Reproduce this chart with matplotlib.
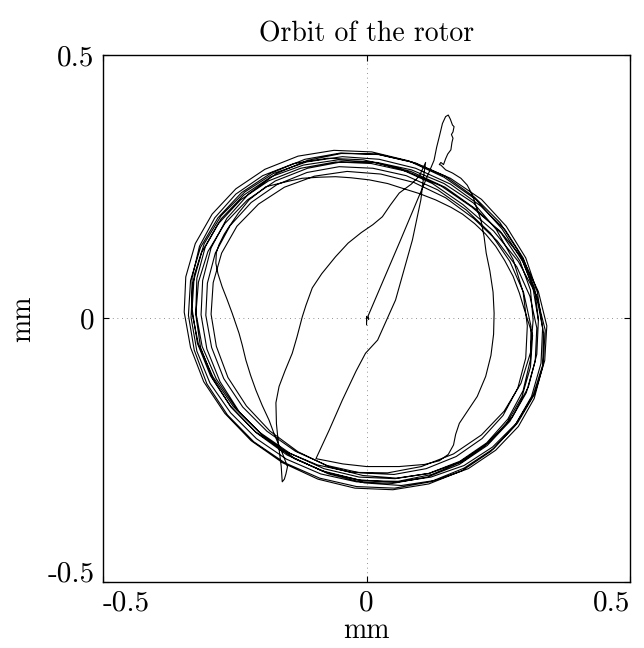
import numpy as np
import matplotlib
matplotlib.use("Agg")
import matplotlib.pyplot as plt

plt.rcParams["font.family"] = "cmr10"
plt.rcParams["axes.unicode_minus"] = False
plt.rcParams["mathtext.fontset"] = "cm"

# --- rotor centre displacement, mm -------------------------------------
# run-up: start at the bearing centre, overshoot, first irregular lap
startup_x = [0.000, 0.000, 0.004, 0.003, 0.065, 0.128, 0.133, 0.138, 0.144, 0.150,
             0.155, 0.159, 0.163, 0.166, 0.164, 0.161, 0.164, 0.162, 0.160, 0.154,
             0.150, 0.146, 0.141, 0.138, 0.141, 0.150, 0.163, 0.179, 0.191, 0.201,
             0.208, 0.217, 0.223, 0.227, 0.234, 0.240, 0.242, 0.241, 0.236, 0.226,
             0.210, 0.190, 0.176, 0.169, 0.165, 0.155, 0.138, 0.110, 0.062, 0.000,
             -0.045, -0.075, -0.096, -0.071, -0.046, -0.020, -0.002, 0.021, 0.055, 0.062,
             0.087, 0.103, 0.109, 0.112, 0.100, 0.085, 0.062, 0.045, 0.030, 0.012,
             -0.010, -0.035, -0.059, -0.085, -0.103, -0.115, -0.122, -0.132, -0.141, -0.155,
             -0.166, -0.172, -0.171, -0.167, -0.162, -0.160, -0.156, -0.153, -0.150, -0.160,
             -0.175, -0.185, -0.198, -0.210, -0.220, -0.229, -0.236, -0.242, -0.255, -0.265,
             -0.274, -0.282, -0.286, -0.285, -0.280, -0.270, -0.261, -0.243, -0.223, -0.191,
             -0.150, -0.122, -0.090, -0.059, -0.030, 0.005, 0.040, 0.068, 0.100, 0.131,
             0.160, 0.182, 0.205, 0.226, 0.245, 0.262, 0.278, 0.290, 0.300]
startup_y = [-0.012, 0.004, -0.002, 0.005, 0.150, 0.300, 0.325, 0.345, 0.370, 0.383,
             0.386, 0.378, 0.367, 0.364, 0.354, 0.349, 0.342, 0.334, 0.320, 0.312,
             0.303, 0.292, 0.296, 0.292, 0.291, 0.282, 0.276, 0.266, 0.253, 0.234,
             0.212, 0.187, 0.155, 0.124, 0.090, 0.050, 0.010, -0.030, -0.070, -0.110,
             -0.148, -0.178, -0.199, -0.220, -0.240, -0.258, -0.270, -0.277, -0.281, -0.281,
             -0.276, -0.270, -0.266, -0.212, -0.155, -0.100, -0.066, -0.041, 0.035, 0.060,
             0.149, 0.225, 0.275, 0.296, 0.270, 0.255, 0.238, 0.215, 0.193, 0.178,
             0.163, 0.143, 0.117, 0.085, 0.058, 0.025, 0.003, -0.035, -0.066, -0.100,
             -0.129, -0.160, -0.200, -0.240, -0.280, -0.310, -0.305, -0.295, -0.281, -0.255,
             -0.220, -0.193, -0.165, -0.136, -0.108, -0.079, -0.050, -0.028, 0.010, 0.037,
             0.060, 0.085, 0.105, 0.125, 0.140, 0.160, 0.174, 0.200, 0.225, 0.250,
             0.260, 0.266, 0.268, 0.269, 0.267, 0.263, 0.256, 0.247, 0.237, 0.225,
             0.211, 0.198, 0.180, 0.160, 0.137, 0.110, 0.080, 0.048, 0.015]

# steady whirl, one list per revolution (clockwise, starting on the right)
lap1_x = [0.315, 0.311, 0.295, 0.266, 0.225, 0.176, 0.119, 0.057, -0.007, -0.070,
          -0.130, -0.183, -0.228, -0.263, -0.285, -0.295, -0.291, -0.275, -0.246, -0.205,
          -0.156, -0.099, -0.037, 0.027, 0.090, 0.150, 0.203, 0.248, 0.285, 0.310]
lap1_y = [-0.032, -0.092, -0.148, -0.199, -0.241, -0.273, -0.294, -0.303, -0.298, -0.282,
          -0.253, -0.214, -0.166, -0.112, -0.053, 0.008, 0.068, 0.124, 0.175, 0.217,
          0.249, 0.270, 0.279, 0.274, 0.258, 0.229, 0.190, 0.147, 0.098, 0.042]
lap2_x = [0.323, 0.320, 0.303, 0.272, 0.229, 0.176, 0.115, 0.049, -0.019, -0.087,
          -0.152, -0.209, -0.258, -0.297, -0.322, -0.333, -0.330, -0.313, -0.282, -0.239,
          -0.186, -0.125, -0.059, 0.009, 0.077, 0.142, 0.199, 0.253, 0.297, 0.326]
lap2_y = [-0.018, -0.081, -0.141, -0.195, -0.241, -0.277, -0.301, -0.313, -0.310, -0.295,
          -0.267, -0.228, -0.179, -0.123, -0.062, 0.002, 0.065, 0.125, 0.179, 0.225,
          0.261, 0.285, 0.297, 0.294, 0.279, 0.251, 0.212, 0.166, 0.112, 0.051]
lap3_x = [0.342, 0.338, 0.319, 0.286, 0.241, 0.185, 0.121, 0.053, -0.019, -0.089,
          -0.155, -0.214, -0.264, -0.303, -0.327, -0.338, -0.334, -0.315, -0.282, -0.237,
          -0.181, -0.117, -0.049, 0.023, 0.093, 0.159, 0.218, 0.265, 0.302, 0.324]
lap3_y = [-0.014, -0.080, -0.143, -0.199, -0.247, -0.284, -0.310, -0.322, -0.319, -0.303,
          -0.274, -0.234, -0.183, -0.124, -0.060, 0.006, 0.072, 0.135, 0.191, 0.239,
          0.276, 0.302, 0.314, 0.311, 0.295, 0.266, 0.226, 0.175, 0.115, 0.050]
lap4_x = [0.334, 0.331, 0.313, 0.281, 0.236, 0.181, 0.118, 0.050, -0.022, -0.092,
          -0.159, -0.219, -0.269, -0.309, -0.334, -0.346, -0.343, -0.325, -0.293, -0.248,
          -0.193, -0.130, -0.062, 0.010, 0.080, 0.147, 0.207, 0.257, 0.297, 0.323]
lap4_y = [-0.018, -0.085, -0.148, -0.204, -0.252, -0.289, -0.314, -0.325, -0.322, -0.305,
          -0.274, -0.232, -0.180, -0.120, -0.055, 0.012, 0.079, 0.142, 0.198, 0.246,
          0.283, 0.308, 0.319, 0.316, 0.299, 0.268, 0.226, 0.170, 0.107, 0.040]
lap5_x = [0.336, 0.334, 0.318, 0.288, 0.245, 0.193, 0.132, 0.066, -0.004, -0.072,
          -0.137, -0.196, -0.246, -0.285, -0.312, -0.324, -0.322, -0.306, -0.276, -0.233,
          -0.181, -0.120, -0.054, 0.016, 0.084, 0.149, 0.208, 0.256, 0.291, 0.311]
lap5_y = [-0.028, -0.092, -0.152, -0.205, -0.250, -0.285, -0.307, -0.317, -0.312, -0.295,
          -0.265, -0.223, -0.173, -0.115, -0.053, 0.012, 0.076, 0.136, 0.189, 0.234,
          0.269, 0.291, 0.301, 0.296, 0.279, 0.249, 0.207, 0.161, 0.109, 0.054]
lap6_x = [0.316, 0.311, 0.293, 0.261, 0.218, 0.165, 0.104, 0.040, -0.028, -0.093,
          -0.155, -0.211, -0.257, -0.292, -0.315, -0.324, -0.319, -0.301, -0.269, -0.226,
          -0.173, -0.112, -0.048, 0.020, 0.085, 0.147, 0.203, 0.246, 0.278, 0.297]
lap6_y = [-0.003, -0.065, -0.123, -0.176, -0.221, -0.257, -0.281, -0.293, -0.292, -0.278,
          -0.252, -0.215, -0.168, -0.114, -0.055, 0.007, 0.069, 0.127, 0.180, 0.225,
          0.261, 0.285, 0.297, 0.296, 0.282, 0.256, 0.219, 0.169, 0.112, 0.050]
lap7_x = [0.305, 0.302, 0.287, 0.259, 0.219, 0.170, 0.113, 0.052, -0.012, -0.075,
          -0.135, -0.189, -0.235, -0.271, -0.294, -0.305, -0.302, -0.287, -0.259, -0.219,
          -0.170, -0.113, -0.052, 0.012, 0.075, 0.135, 0.189, 0.235, 0.272, 0.298]
lap7_y = [-0.014, -0.075, -0.132, -0.184, -0.228, -0.262, -0.285, -0.296, -0.293, -0.279,
          -0.252, -0.214, -0.168, -0.114, -0.055, 0.006, 0.067, 0.124, 0.176, 0.220,
          0.254, 0.277, 0.288, 0.285, 0.271, 0.244, 0.206, 0.162, 0.108, 0.049]
lap8_x = [0.312, 0.311, 0.297, 0.268, 0.228, 0.177, 0.118, 0.054, -0.014, -0.081,
          -0.145, -0.203, -0.253, -0.292, -0.319, -0.332, -0.331, -0.317, -0.288, -0.248,
          -0.197, -0.138, -0.074, -0.006, 0.061, 0.125, 0.183, 0.241, 0.288, 0.322]
lap8_y = [-0.015, -0.078, -0.137, -0.191, -0.236, -0.271, -0.294, -0.304, -0.301, -0.285,
          -0.256, -0.216, -0.167, -0.110, -0.049, 0.015, 0.078, 0.137, 0.191, 0.236,
          0.271, 0.294, 0.304, 0.301, 0.285, 0.256, 0.216, 0.166, 0.108, 0.045]
lap9_x = [0.339, 0.335, 0.316, 0.284, 0.239, 0.185, 0.122, 0.054, -0.016, -0.085,
          -0.151, -0.209, -0.258, -0.296, -0.321, -0.331, -0.327, -0.308, -0.276, -0.231,
          -0.177, -0.114, -0.046, 0.024, 0.093, 0.159, 0.217, 0.263, 0.297, 0.319]
lap9_y = [-0.022, -0.086, -0.146, -0.199, -0.244, -0.279, -0.301, -0.311, -0.306, -0.289,
          -0.259, -0.217, -0.167, -0.109, -0.047, 0.018, 0.082, 0.142, 0.195, 0.240,
          0.275, 0.297, 0.307, 0.302, 0.285, 0.255, 0.213, 0.168, 0.115, 0.057]
lap10_x = [0.326, 0.323, 0.307, 0.277, 0.235, 0.183, 0.124, 0.060, -0.008, -0.074,
           -0.137, -0.193, -0.241, -0.278, -0.303, -0.314, -0.311, -0.295, -0.265, -0.223,
           -0.171, -0.112, -0.048, 0.020, 0.086, 0.149, 0.205, 0.253, 0.290, 0.315, 0.326]
lap10_y = [-0.003, -0.068, -0.130, -0.186, -0.233, -0.271, -0.296, -0.309, -0.308, -0.293,
           -0.266, -0.226, -0.178, -0.120, -0.058, 0.007, 0.072, 0.134, 0.190, 0.237,
           0.275, 0.300, 0.313, 0.312, 0.297, 0.270, 0.230, 0.182, 0.124, 0.062, -0.003]

tick_values = [-0.5, 0.0, 0.5]
tick_labels = ["-0.5", "0", "0.5"]

laps_x = [lap1_x, lap2_x, lap3_x, lap4_x, lap5_x, lap6_x, lap7_x, lap8_x, lap9_x, lap10_x]
laps_y = [lap1_y, lap2_y, lap3_y, lap4_y, lap5_y, lap6_y, lap7_y, lap8_y, lap9_y, lap10_y]
orbit_x = np.concatenate([startup_x] + laps_x)
orbit_y = np.concatenate([startup_y] + laps_y)

fig = plt.figure(figsize=(6.44, 6.48), dpi=100)
ax = fig.add_axes([0.160, 0.1019, 0.8184, 0.8133])

ax.axvline(0, color="#7a7a7a", lw=0.7, ls=(0, (0.8, 4.0)), zorder=1)
ax.axhline(0, color="#7a7a7a", lw=0.7, ls=(0, (0.8, 4.0)), zorder=1)
ax.plot(orbit_x, orbit_y, color="black", lw=0.8, solid_joinstyle="round", zorder=3)

ax.set_xlim(-0.5, 0.5)
ax.set_ylim(-0.5, 0.5)
ax.set_xticks(tick_values)
ax.set_xticklabels(tick_labels)
ax.set_yticks(tick_values)
ax.set_yticklabels(tick_labels)
ax.tick_params(direction="in", length=4, width=0.8, top=True, right=True,
               labelsize=21, pad=6)
for s in ax.spines.values():
    s.set_linewidth(1.0)

# end labels sit inside the tick span
xlabs = ax.get_xticklabels()
xlabs[0].set_horizontalalignment("left")
xlabs[-1].set_horizontalalignment("right")
ylabs = ax.get_yticklabels()
ylabs[0].set_verticalalignment("baseline")

ax.set_title("Orbit of the rotor", fontsize=20, pad=10)
ax.set_xlabel("mm", fontsize=20, labelpad=1)
ax.set_ylabel("mm", fontsize=20, labelpad=8)

fig.savefig("out.png", dpi=100)
